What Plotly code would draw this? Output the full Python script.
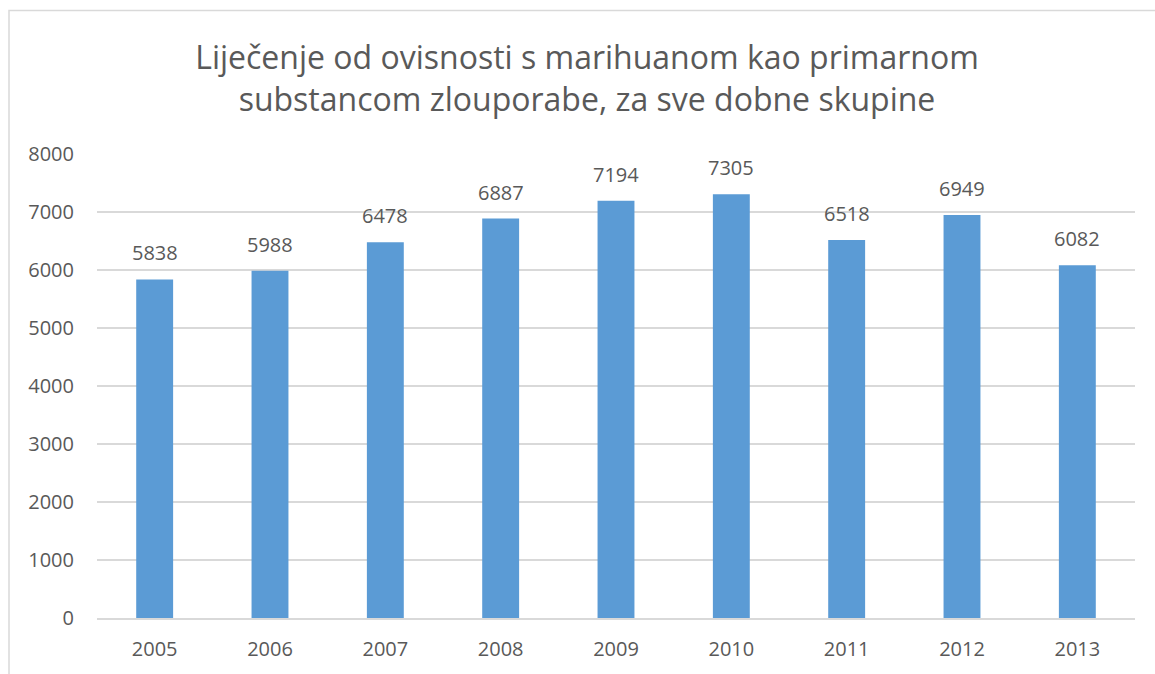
import plotly.graph_objects as go

years = ["2005", "2006", "2007", "2008", "2009", "2010", "2011", "2012", "2013"]
values = [5838, 5988, 6478, 6887, 7194, 7305, 6518, 6949, 6082]
title_lines = ["Liječenje od ovisnosti s marihuanom kao primarnom",
               "substancom zlouporabe, za sve dobne skupine"]

TEXT = "#595959"
FONT = "Open Sans"

fig = go.Figure()
fig.add_trace(go.Bar(x=years, y=values, marker=dict(color="#5B9BD5", line=dict(width=0)),
                     width=0.32, hoverinfo="x+y"))

for i, v in enumerate(values):
    fig.add_annotation(x=i, y=v, text=str(v), showarrow=False, yanchor="bottom",
                       yshift=11, font=dict(family=FONT, size=20, color=TEXT))

fig.add_shape(type="rect", xref="paper", yref="paper",
              x0=(9 - 97) / 1038, x1=(1165 - 97) / 1038,
              y0=-(700 - 620) / 466, y1=(620 - 10) / 466,
              line=dict(color="#D9D9D9", width=1.5), fillcolor="rgba(0,0,0,0)", layer="below")

fig.update_layout(
    width=1155, height=674,
    margin=dict(l=97, r=20, t=154, b=54),
    paper_bgcolor="white", plot_bgcolor="white",
    showlegend=False,
    title=dict(text="<br>".join(title_lines), x=587 / 1155, xanchor="center",
               y=1 - 69 / 674, yanchor="middle",
               font=dict(family=FONT, size=32, color=TEXT)),
    xaxis=dict(type="category", range=[-0.5, len(years) - 0.5], showgrid=False,
               showline=True, linecolor="#D9D9D9", linewidth=1.5,
               ticks="", ticklabelstandoff=12, tickfont=dict(family=FONT, size=20, color=TEXT)),
    yaxis=dict(range=[0, 8000], dtick=1000, showgrid=True, gridcolor="#D9D9D9", gridwidth=1.5,
               zeroline=False, showline=False, ticks="", ticklabelstandoff=22,
               tickfont=dict(family=FONT, size=20, color=TEXT)),
)

fig.write_html("out.html", config={"displayModeBar": False},
               post_script="document.body.style.margin='0';")
